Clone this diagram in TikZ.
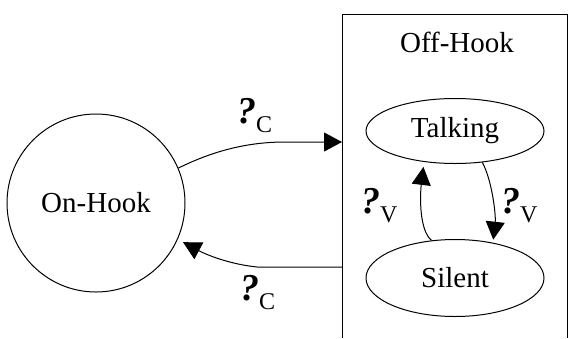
\documentclass[tikz,border=0pt]{standalone}
\usepackage{fontspec}
\setmainfont{Liberation Serif}
\usetikzlibrary{arrows.meta,shapes.geometric}

\tikzset{
  state/.style={draw,line width=1pt,inner sep=0pt},
  trans/.style={line width=1pt,-{Triangle[length=18pt,width=19pt]}},
  evtlabel/.style={anchor=base west,inner sep=0pt},
}
% event symbol with its subscript
\newcommand{\evt}[1]{{\fontsize{38}{38}\selectfont\bfseries\itshape ?}\raisebox{-9pt}{\fontsize{24}{24}\selectfont #1}}

\begin{document}
\begin{tikzpicture}[x=1pt,y=-1pt,font=\fontsize{29}{34}\selectfont]
\useasboundingbox (0,0) rectangle (570,338);

\node[state,circle,minimum size=178pt] (onhook) at (96,203) {On-Hook};

% off-hook superstate, open at the bottom
\draw[line width=1pt] (342,338) -- (342,14) -- (567,14) -- (567,338);
\node (offhook) at (457,42) {Off-Hook};
\node[state,ellipse,minimum width=178pt,minimum height=65pt] (talking) at (455,131) {Talking};
\node[state,ellipse,minimum width=178pt,minimum height=77pt] (silent) at (455,278) {Silent};

\coordinate (in) at (342,142);
\coordinate (out) at (342,267);

\draw[trans] (onhook.23) .. controls (205,155) and (240,142) .. (285,142) -- (in);
\draw[trans,shorten >=6pt] (out) -- (257,267) .. controls (228,264) and (205,254) .. (onhook.-24);
\draw[trans,shorten >=5pt] (silent.122) .. controls (419,230) and (420,195) .. (talking.225);
\draw[trans,shorten >=3pt] (talking.-49) .. controls (492,180) and (496,215) .. (silent.43);

\node[evtlabel] (cup) at (237,123) {\evt{C}};
\node[evtlabel] (cdown) at (240,300) {\evt{C}};
\node[evtlabel] (vleft) at (361,213) {\evt{V}};
\node[evtlabel] (vright) at (501,213) {\evt{V}};

\end{tikzpicture}
\end{document}
